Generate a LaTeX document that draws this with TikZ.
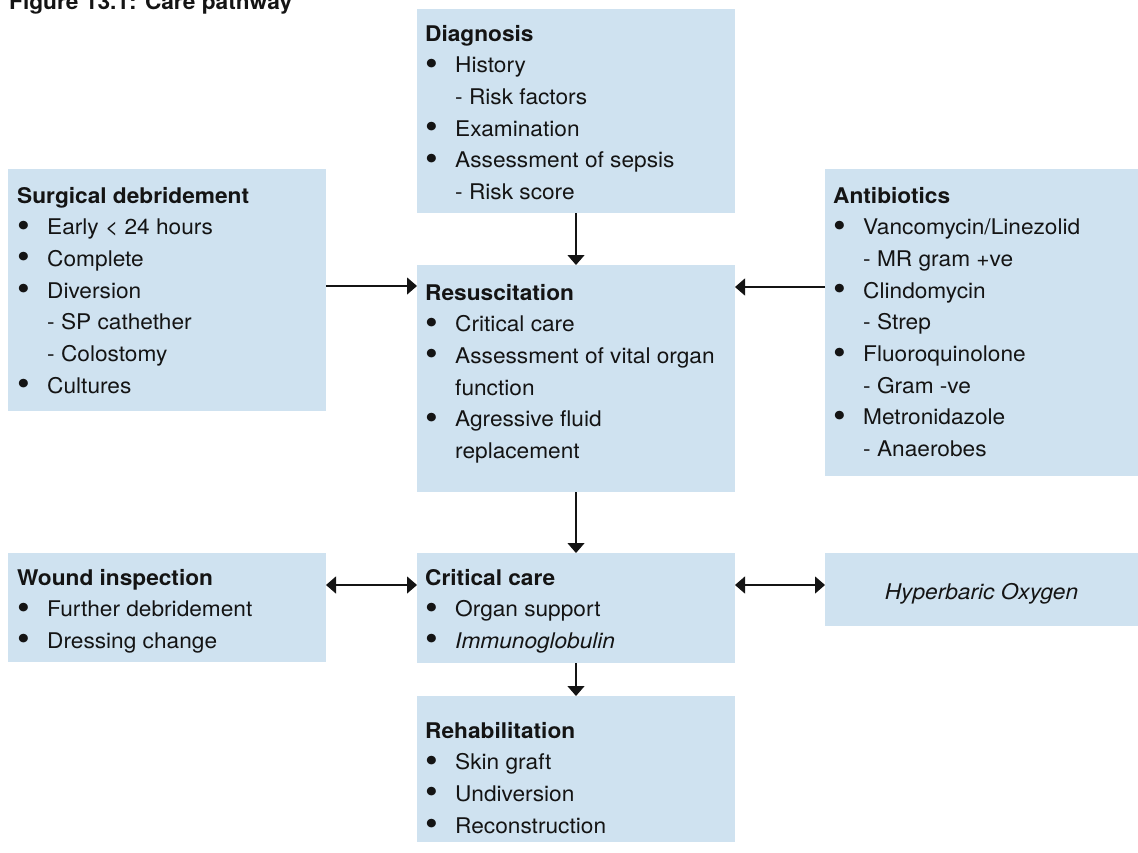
\documentclass[tikz,border=0pt]{standalone}
\usepackage{fontspec}
\usepackage{graphicx}
\setmainfont{TeX Gyre Heros}[FakeStretch=1.05]
\usetikzlibrary{arrows.meta}
\definecolor{boxblue}{RGB}{207,226,240}
\definecolor{ink}{RGB}{20,20,20}
\newcommand{\bigbul}{\raisebox{-2.5pt}{\scalebox{1.6}{\textbullet}}}
\newcommand{\bul}[1]{\hbox{\hbox to 30pt{\hskip0.5pt\bigbul\hss}#1}}
\newcommand{\subit}[1]{\hbox{\hskip30pt - #1}}
\newcommand{\cont}[1]{\hbox{\hskip30pt #1}}
\newcommand{\hd}[1]{\hbox{\bfseries #1}}
\newcommand{\boxlines}[1]{\vtop{\baselineskip=31.7pt\lineskiplimit=-50pt\lineskip=0pt #1}}
\tikzset{
  box/.style={fill=boxblue, draw=none, anchor=north west, inner sep=0pt, outer sep=0pt},
  txt/.style={anchor=base west, inner sep=0pt, text=ink},
  arr/.style={-{Triangle[length=10pt,width=17pt]}, line width=1.3pt, draw=ink},
  darr/.style={{Triangle[length=10pt,width=17pt]}-{Triangle[length=10pt,width=17pt]}, line width=1.3pt, draw=ink}
}
\begin{document}
\begin{tikzpicture}[x=1pt,y=-1pt,font=\fontsize{21.6}{31.7}\selectfont]
\useasboundingbox (0,0) rectangle (1138,852);
% title
\node[txt] (title) at (9,9) {\bfseries Figure 13.1: Care pathway};
% boxes
\node[box, minimum width=318pt, minimum height=204pt] (diag) at (417,9) {};
\node[box, minimum width=318pt, minimum height=242pt] (surg) at (8,169) {};
\node[box, minimum width=313pt, minimum height=307pt] (anti) at (825,169) {};
\node[box, minimum width=318pt, minimum height=227pt] (resus) at (417,265) {};
\node[box, minimum width=318pt, minimum height=109pt] (wound) at (8,553) {};
\node[box, minimum width=318pt, minimum height=110pt] (crit) at (417,553) {};
\node[box, minimum width=313pt, minimum height=73pt] (hyper) at (825,553) {};
\node[box, minimum width=318pt, minimum height=146pt] (rehab) at (417,696) {};
% texts
\node[txt] (diagt) at (425,41) {\boxlines{\hd{Diagnosis}\bul{History}\subit{Risk factors}\bul{Examination}\bul{Assessment of sepsis}\subit{Risk score}}};
\node[txt] (surgt) at (17,203) {\boxlines{\hd{Surgical debridement}\bul{Early < 24 hours}\bul{Complete}\bul{Diversion}\subit{SP cathether}\subit{Colostomy}\bul{Cultures}}};
\node[txt] (antit) at (833,203) {\boxlines{\hd{Antibiotics}\bul{Vancomycin/Linezolid}\subit{MR gram +ve}\bul{Clindomycin}\subit{Strep}\bul{Fluoroquinolone}\subit{Gram -ve}\bul{Metronidazole}\subit{Anaerobes}}};
\node[txt] (resust) at (425,300) {\boxlines{\hd{Resuscitation}\bul{Critical care}\bul{Assessment of vital organ}\cont{function}\bul{Agressive fluid}\cont{replacement}}};
\node[txt] (woundt) at (17,585) {\boxlines{\hd{Wound inspection}\bul{Further debridement}\bul{Dressing change}}};
\node[txt] (critt) at (425,585) {\boxlines{\hd{Critical care}\bul{Organ support}\bul{\itshape Immunoglobulin}}};
\node[txt, anchor=base] (hypert) at (981.5,599) {\itshape Hyperbaric Oxygen};
\node[txt] (rehabt) at (425,738) {\boxlines{\hd{Rehabilitation}\bul{Skin graft}\bul{Undiversion}\bul{Reconstruction}}};
% connectors
\draw[arr] (diag.south) -- (resus.north);
\draw[arr] (surg.east |- 0,286) -- (resus.west |- 0,286);
\draw[arr] (anti.west |- 0,287) -- (resus.east |- 0,287);
\draw[arr] (resus.south) -- (crit.north);
\draw[darr] (wound.east |- 0,585) -- (crit.west |- 0,585);
\draw[darr] (crit.east |- 0,585) -- (hyper.west |- 0,585);
\draw[arr] (crit.south) -- (rehab.north);
\end{tikzpicture}
\end{document}
